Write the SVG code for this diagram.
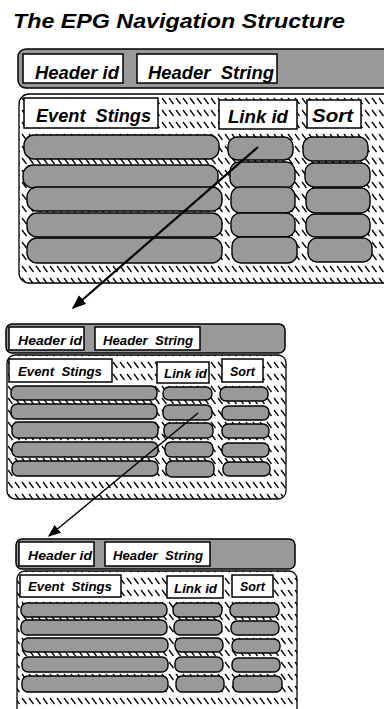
<svg xmlns="http://www.w3.org/2000/svg" width="384" height="709" viewBox="0 0 384 709">
  <style>
    .bar { fill: #999; stroke: #000; stroke-width: 1.5; }
    .lbl { fill: #fff; stroke: #000; stroke-width: 1.5; }
    .body { fill: url(#hatch); stroke: #000; stroke-width: 1.3; }
    .cell { fill: #999; stroke: #000; stroke-width: 1.4; }
    .t { font-family: "Liberation Sans", Arial, sans-serif; font-weight: bold; font-style: italic; fill: #000; white-space: pre; }
    .t1 { font-size: 18px; }
    .t2 { font-size: 13px; }
    .conn { stroke: #000; fill: none; }
  </style>
  <defs>
    <pattern id="hatch" patternUnits="userSpaceOnUse" width="7" height="12">
      <rect width="7" height="12" fill="#fff"/>
      <line x1="1" y1="2" x2="5.5" y2="8" stroke="#000" stroke-width="1.3"/>
    </pattern>
    <marker id="arrowBig" viewBox="0 0 10 10" refX="9" refY="5" markerWidth="6.5" markerHeight="6.5" orient="auto" markerUnits="strokeWidth">
      <path d="M0,1 L10,5 L0,9 Z" fill="#000"/>
    </marker>
    <marker id="arrowSmall" viewBox="0 0 10 10" refX="9" refY="5" markerWidth="9" markerHeight="9" orient="auto" markerUnits="strokeWidth">
      <path d="M0,1 L10,5 L0,9 Z" fill="#000"/>
    </marker>
  </defs>

  <g id="title">
    <text class="t" x="13" y="28" font-size="21" textLength="332" lengthAdjust="spacingAndGlyphs">The EPG Navigation Structure</text>
  </g>

  <!-- Level 1 table -->
  <g id="table1">
    <g id="t1-header">
      <rect class="bar" x="18" y="49" width="400" height="39" rx="8"/>
      <rect class="lbl" x="23" y="54" width="100" height="29"/>
      <text class="t t1" x="35" y="79" textLength="84" lengthAdjust="spacingAndGlyphs">Header id</text>
      <rect class="lbl" x="137" y="54" width="140" height="29"/>
      <text class="t t1" x="148" y="79" textLength="126" lengthAdjust="spacingAndGlyphs" xml:space="preserve">Header  String</text>
    </g>
    <g id="t1-body">
      <rect class="body" x="19" y="94" width="400" height="189" rx="10"/>
      <rect class="lbl" x="24" y="98" width="134" height="30"/>
      <text class="t t1" x="36" y="122" textLength="115" lengthAdjust="spacingAndGlyphs" xml:space="preserve">Event  Stings</text>
      <rect class="lbl" x="219" y="100" width="78" height="29"/>
      <text class="t t1" x="228" y="123" textLength="60" lengthAdjust="spacingAndGlyphs">Link id</text>
      <rect class="lbl" x="307" y="100" width="54" height="28"/>
      <text class="t t1" x="312" y="122" textLength="41" lengthAdjust="spacingAndGlyphs">Sort</text>
    </g>
    <g id="t1-events">
      <rect class="cell" x="24" y="135" width="195" height="24" rx="10"/>
      <rect class="cell" x="23" y="165" width="195" height="23" rx="10"/>
      <rect class="cell" x="27" y="187" width="195" height="24" rx="10"/>
      <rect class="cell" x="27" y="213" width="195" height="24" rx="10"/>
      <rect class="cell" x="27" y="238" width="195" height="25" rx="10"/>
    </g>
    <g id="t1-links">
      <rect class="cell" x="228" y="137" width="65" height="23" rx="9"/>
      <rect class="cell" x="230" y="162" width="65" height="26" rx="9"/>
      <rect class="cell" x="231" y="187" width="64" height="26" rx="9"/>
      <rect class="cell" x="231" y="213" width="64" height="24" rx="9"/>
      <rect class="cell" x="232" y="237" width="65" height="26" rx="9"/>
    </g>
    <g id="t1-sorts">
      <rect class="cell" x="303" y="137" width="65" height="24" rx="9"/>
      <rect class="cell" x="305" y="163" width="65" height="24" rx="9"/>
      <rect class="cell" x="306" y="188" width="64" height="25" rx="9"/>
      <rect class="cell" x="306" y="214" width="64" height="23" rx="9"/>
      <rect class="cell" x="308" y="238" width="64" height="24" rx="9"/>
    </g>
  </g>

  <!-- Level 2 table -->
  <g id="table2">
    <g id="t2-header">
      <rect class="bar" x="6" y="324" width="279" height="29" rx="6"/>
      <rect class="lbl" x="9" y="327" width="75" height="23"/>
      <text class="t t2" x="18" y="345" textLength="64" lengthAdjust="spacingAndGlyphs">Header id</text>
      <rect class="lbl" x="95" y="327" width="105" height="23"/>
      <text class="t t2" x="103" y="345" textLength="90" lengthAdjust="spacingAndGlyphs" xml:space="preserve">Header  String</text>
    </g>
    <g id="t2-body">
      <rect class="body" x="7" y="355" width="279" height="144" rx="8"/>
      <rect class="lbl" x="9" y="359" width="103" height="23"/>
      <text class="t t2" x="18" y="376" textLength="84" lengthAdjust="spacingAndGlyphs" xml:space="preserve">Event  Stings</text>
      <rect class="lbl" x="157" y="362" width="52" height="21"/>
      <text class="t t2" x="164" y="378" textLength="43" lengthAdjust="spacingAndGlyphs">Link id</text>
      <rect class="lbl" x="222" y="359" width="41" height="23"/>
      <text class="t t2" x="230" y="376" textLength="25" lengthAdjust="spacingAndGlyphs">Sort</text>
    </g>
    <g id="t2-events">
      <rect class="cell" x="11" y="386" width="146" height="14" rx="6"/>
      <rect class="cell" x="11" y="404" width="146" height="15" rx="6"/>
      <rect class="cell" x="12" y="422" width="146" height="16" rx="6"/>
      <rect class="cell" x="12" y="442" width="146" height="15" rx="6"/>
      <rect class="cell" x="12" y="461" width="146" height="15" rx="6"/>
    </g>
    <g id="t2-links">
      <rect class="cell" x="163" y="387" width="49" height="13" rx="6"/>
      <rect class="cell" x="163" y="405" width="49" height="15" rx="6"/>
      <rect class="cell" x="164" y="423" width="49" height="15" rx="6"/>
      <rect class="cell" x="165" y="442" width="48" height="15" rx="6"/>
      <rect class="cell" x="166" y="461" width="48" height="16" rx="6"/>
    </g>
    <g id="t2-sorts">
      <rect class="cell" x="220" y="387" width="48" height="14" rx="6"/>
      <rect class="cell" x="222" y="406" width="47" height="14" rx="6"/>
      <rect class="cell" x="222" y="424" width="47" height="14" rx="6"/>
      <rect class="cell" x="222" y="443" width="47" height="14" rx="6"/>
      <rect class="cell" x="223" y="462" width="47" height="14" rx="6"/>
    </g>
  </g>

  <!-- Level 3 table -->
  <g id="table3">
    <g id="t3-header">
      <rect class="bar" x="16" y="539" width="279" height="30" rx="6"/>
      <rect class="lbl" x="19" y="542" width="75" height="24"/>
      <text class="t t2" x="28" y="560" textLength="64" lengthAdjust="spacingAndGlyphs">Header id</text>
      <rect class="lbl" x="105" y="542" width="105" height="24"/>
      <text class="t t2" x="113" y="560" textLength="90" lengthAdjust="spacingAndGlyphs" xml:space="preserve">Header  String</text>
    </g>
    <g id="t3-body">
      <rect class="body" x="17" y="571" width="280" height="160" rx="8"/>
      <rect class="lbl" x="20" y="575" width="101" height="22"/>
      <text class="t t2" x="28" y="591" textLength="84" lengthAdjust="spacingAndGlyphs" xml:space="preserve">Event  Stings</text>
      <rect class="lbl" x="167" y="576" width="56" height="22"/>
      <text class="t t2" x="174" y="593" textLength="43" lengthAdjust="spacingAndGlyphs">Link id</text>
      <rect class="lbl" x="232" y="575" width="41" height="22"/>
      <text class="t t2" x="240" y="591" textLength="25" lengthAdjust="spacingAndGlyphs">Sort</text>
    </g>
    <g id="t3-events">
      <rect class="cell" x="21" y="603" width="146" height="14" rx="6"/>
      <rect class="cell" x="21" y="620" width="146" height="15" rx="6"/>
      <rect class="cell" x="22" y="638" width="146" height="14" rx="6"/>
      <rect class="cell" x="22" y="657" width="146" height="15" rx="6"/>
      <rect class="cell" x="22" y="676" width="146" height="16" rx="6"/>
    </g>
    <g id="t3-links">
      <rect class="cell" x="173" y="603" width="49" height="14" rx="6"/>
      <rect class="cell" x="174" y="620" width="48" height="15" rx="6"/>
      <rect class="cell" x="175" y="638" width="48" height="14" rx="6"/>
      <rect class="cell" x="175" y="657" width="48" height="15" rx="6"/>
      <rect class="cell" x="176" y="676" width="48" height="16" rx="6"/>
    </g>
    <g id="t3-sorts">
      <rect class="cell" x="230" y="603" width="49" height="14" rx="6"/>
      <rect class="cell" x="231" y="621" width="48" height="14" rx="6"/>
      <rect class="cell" x="232" y="639" width="48" height="14" rx="6"/>
      <rect class="cell" x="232" y="658" width="48" height="14" rx="6"/>
      <rect class="cell" x="233" y="676" width="49" height="16" rx="6"/>
    </g>
  </g>

  <!-- Link id cells point to the next table -->
  <g id="connectors">
    <line class="conn" x1="258" y1="147" x2="73" y2="308" stroke-width="2.2" marker-end="url(#arrowBig)"/>
    <line class="conn" x1="198" y1="413" x2="49" y2="536" stroke-width="1.4" marker-end="url(#arrowSmall)"/>
  </g>
</svg>
